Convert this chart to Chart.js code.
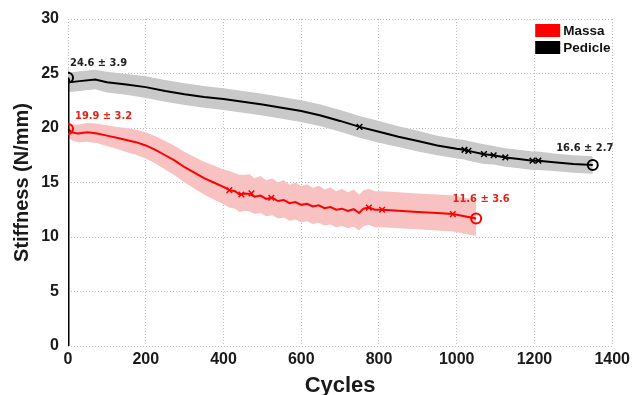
<!DOCTYPE html>
<html><head><meta charset="utf-8">
<script src="https://cdn.jsdelivr.net/npm/chart.js@4.4.1/dist/chart.umd.min.js"></script>
<style>html,body{margin:0;padding:0;background:#fff;}canvas{display:block}</style>
</head><body>
<canvas id="c" width="634" height="395"></canvas>
<script>
// ---- data ----
const xTicks = [0, 200, 400, 600, 800, 1000, 1200, 1400];
const yTicks = [0, 5, 10, 15, 20, 25, 30];

const pedicleCycles    = [0, 5, 30, 70, 100, 150, 200, 250, 300, 350, 400, 450, 500, 550, 600, 650, 700, 750, 800, 850, 900, 950, 1000, 1020, 1030, 1070, 1095, 1125, 1160, 1195, 1210, 1250, 1300, 1350];
const pedicleStiffness = [24.6, 24.2, 24.3, 24.45, 24.2, 24.0, 23.75, 23.4, 23.1, 22.85, 22.65, 22.4, 22.15, 21.85, 21.55, 21.15, 20.65, 20.1, 19.65, 19.2, 18.8, 18.4, 18.1, 18.0, 17.9, 17.6, 17.5, 17.3, 17.15, 17.0, 17.0, 16.85, 16.7, 16.6];
const pedicleBand      = [0.9, 0.9, 0.9, 0.9, 0.95, 0.95, 1.0, 1.0, 1.0, 1.0, 1.0, 1.0, 1.0, 1.0, 1.0, 1.0, 1.0, 1.0, 1.0, 0.95, 0.95, 0.9, 0.9, 0.9, 0.9, 0.9, 0.85, 0.85, 0.85, 0.85, 0.85, 0.8, 0.8, 0.8];
const pedicleCrossX    = [750, 1020, 1030, 1070, 1095, 1125, 1195, 1210];
const pedicleCrossY    = [20.1, 18.0, 17.9, 17.6, 17.5, 17.3, 17.0, 17.0];
const pedicleStart     = [0, 24.6];

const massaCycles    = [0, 10, 25, 50, 75, 100, 125, 150, 175, 200, 225, 250, 275, 300, 325, 350, 375, 400, 415, 430, 441, 455, 467, 480, 495, 510, 526, 540, 555, 570, 585, 600, 615, 630, 645, 660, 675, 690, 705, 720, 735, 749, 760, 774, 790, 808, 850, 900, 950, 990, 1020, 1050];
const massaStiffness = [19.9, 19.6, 19.5, 19.6, 19.5, 19.3, 19.1, 18.9, 18.7, 18.4, 18.0, 17.5, 17.0, 16.4, 15.9, 15.4, 15.0, 14.6, 14.3, 14.2, 13.9, 14.0, 13.95, 13.7, 13.8, 13.5, 13.6, 13.3, 13.4, 13.1, 13.2, 12.95, 13.05, 12.8, 12.9, 12.65, 12.75, 12.5, 12.6, 12.4, 12.55, 12.2, 12.6, 12.7, 12.5, 12.5, 12.4, 12.3, 12.2, 12.1, 11.9, 11.7];
const massaBandUp    = [0.7, 0.75, 0.8, 0.85, 0.9, 0.95, 1.0, 1.1, 1.15, 1.2, 1.25, 1.3, 1.35, 1.4, 1.45, 1.5, 1.55, 1.6, 1.75, 1.65, 1.8, 1.7, 1.8, 1.7, 1.8, 1.7, 1.8, 1.7, 1.8, 1.7, 1.8, 1.7, 1.8, 1.7, 1.8, 1.7, 1.8, 1.7, 1.8, 1.7, 1.8, 1.7, 1.7, 1.7, 1.7, 1.7, 1.7, 1.7, 1.7, 1.7, 1.7, 1.7];
const massaBandLo    = [0.7, 0.75, 0.8, 0.85, 0.9, 0.95, 1.0, 1.1, 1.15, 1.2, 1.25, 1.3, 1.35, 1.4, 1.45, 1.5, 1.55, 1.6, 1.6, 1.6, 1.6, 1.6, 1.6, 1.6, 1.6, 1.6, 1.6, 1.6, 1.6, 1.6, 1.6, 1.6, 1.6, 1.6, 1.6, 1.6, 1.6, 1.6, 1.6, 1.6, 1.6, 1.6, 1.6, 1.6, 1.6, 1.6, 1.6, 1.6, 1.6, 1.6, 1.6, 1.6];
const massaCrossX    = [415, 446, 472, 523, 774, 808, 990];
const massaCrossY    = [14.3, 13.9, 14.0, 13.6, 12.7, 12.5, 12.1];

const seriesNames = ['Massa', 'Pedicle'];
const summaryLabels = ['19.9 ± 3.2', '11.6 ± 3.6', '24.6 ± 3.9', '16.6 ± 2.7'];

// ---- build datasets ----
const pts = (xs, ys) => xs.map((x, i) => ({x, y: ys[i]}));
const RED = '#ff0000', BLACK = '#000000';
const PINK = '#f8c2c2', GREY = '#c9c9c9';

const pedLine = pts(pedicleCycles, pedicleStiffness);
const massaLine = pts(massaCycles, massaStiffness);
const pedEnds = [pedLine[0], pedLine[pedLine.length - 1]];
const massaEnds = [massaLine[0], massaLine[massaLine.length - 1]];

const datasets = [
  {label: 'pedUp', data: pedicleCycles.map((x, i) => ({x, y: pedicleStiffness[i] + pedicleBand[i]})), borderWidth: 0, pointRadius: 0, backgroundColor: GREY, fill: '+1', order: 5},
  {label: 'pedLo', data: pedicleCycles.map((x, i) => ({x, y: pedicleStiffness[i] - pedicleBand[i]})), borderWidth: 0, pointRadius: 0, fill: false, order: 5},
  {label: 'massaUp', data: massaCycles.map((x, i) => ({x, y: massaStiffness[i] + massaBandUp[i]})), borderWidth: 0, pointRadius: 0, backgroundColor: PINK, fill: '+1', order: 4},
  {label: 'massaLo', data: massaCycles.map((x, i) => ({x, y: massaStiffness[i] - massaBandLo[i]})), borderWidth: 0, pointRadius: 0, fill: false, order: 4},
  {label: seriesNames[0], data: massaLine, borderColor: RED, borderWidth: 2, pointRadius: 0, fill: false, order: 2},
  {label: seriesNames[1], data: pedLine, borderColor: BLACK, borderWidth: 2, pointRadius: 0, fill: false, order: 2},
  {label: 'pedStart', data: [{x: 0, y: 0}, {x: 0, y: pedicleStart[1]}], borderColor: BLACK, borderWidth: 3, pointRadius: 0, fill: false, order: 1},
  {label: 'massaX', data: pts(massaCrossX, massaCrossY), showLine: false, pointStyle: 'crossRot', pointRadius: 4, pointBorderWidth: 1.5, pointBorderColor: RED, order: 0},
  {label: 'pedX', data: pts(pedicleCrossX, pedicleCrossY), showLine: false, pointStyle: 'crossRot', pointRadius: 4, pointBorderWidth: 1.5, pointBorderColor: BLACK, order: 0},
  {label: 'massaO', data: massaEnds, showLine: false, pointStyle: 'circle', pointRadius: 5, pointBorderWidth: 2, pointBorderColor: RED, pointBackgroundColor: 'rgba(0,0,0,0)', order: 0},
  {label: 'pedO', data: pedEnds, showLine: false, pointStyle: 'circle', pointRadius: 5, pointBorderWidth: 2, pointBorderColor: BLACK, pointBackgroundColor: 'rgba(0,0,0,0)', order: 0}
];

const TEXT_FONT = '"Liberation Sans Narrow", "DejaVu Sans Condensed", Arial, sans-serif';

const overlay = {
  id: 'overlay',
  afterDatasetsDraw(chart) {
    const {ctx, scales: {x, y}} = chart;
    ctx.save();
    ctx.font = 'bold 11px ' + TEXT_FONT;
    ctx.textBaseline = 'middle';
    const put = (txt, pt, dx, dy, align, color) => {
      ctx.fillStyle = color; ctx.textAlign = align;
      ctx.fillText(txt, x.getPixelForValue(pt.x) + dx, y.getPixelForValue(pt.y) + dy);
    };
    put(summaryLabels[0], massaEnds[0], 7, -13, 'left', '#e2231a');
    put(summaryLabels[1], massaEnds[1], 5, -19, 'center', '#e2231a');
    put(summaryLabels[2], pedEnds[0], 2, -15, 'left', '#222222');
    put(summaryLabels[3], pedEnds[1], -8, -17, 'center', '#222222');

    // legend (top right inside plot)
    const lx = chart.chartArea.right - 77, ly = chart.chartArea.top + 5;
    ctx.fillStyle = '#ffffff';
    ctx.fillRect(lx - 3, ly - 2, 78, 33);
    const colors = [RED, BLACK];
    ctx.font = 'bold 13.5px "Liberation Sans", Arial, sans-serif';
    ctx.textAlign = 'left';
    seriesNames.forEach((name, i) => {
      ctx.fillStyle = colors[i];
      ctx.fillRect(lx, ly + i * 17, 25, 13);
      ctx.fillStyle = '#111111';
      ctx.fillText(name, lx + 28, ly + i * 17 + 7);
    });
    ctx.restore();
  }
};

const gridOpts = {color: '#bdbdbd', lineWidth: 1, drawTicks: false};
const borderOpts = {display: false, dash: [1, 2]};
const plain = v => String(v);

new Chart(document.getElementById('c'), {
  type: 'line',
  data: {datasets},
  plugins: [overlay],
  options: {
    responsive: false,
    animation: false,
    devicePixelRatio: 1,
    parsing: false,
    layout: {padding: {top: 19, right: 20, left: 0, bottom: 0}},
    plugins: {legend: {display: false}, tooltip: {enabled: false}},
    elements: {line: {tension: 0}},
    scales: {
      x: {
        type: 'linear', min: xTicks[0], max: xTicks[xTicks.length - 1],
        afterBuildTicks: s => { s.ticks = xTicks.map(v => ({value: v})); },
        afterFit: s => { s.height = 49; },
        grid: gridOpts,
        border: borderOpts,
        ticks: {color: '#1a1a1a', padding: 4, callback: plain, font: {family: '"Liberation Sans", Arial, sans-serif', size: 16, weight: 'bold'}, maxRotation: 0},
        title: {display: true, text: 'Cycles', color: '#1a1a1a', padding: 0, font: {family: '"Liberation Sans", Arial, sans-serif', size: 22, weight: 'bold', lineHeight: 0.8}}
      },
      y: {
        type: 'linear', min: yTicks[0], max: yTicks[yTicks.length - 1],
        afterBuildTicks: s => { s.ticks = yTicks.map(v => ({value: v})); },
        afterFit: s => { s.width = 68; },
        grid: gridOpts,
        border: borderOpts,
        ticks: {color: '#1a1a1a', padding: 9, callback: plain, font: {family: '"Liberation Sans", Arial, sans-serif', size: 16, weight: 'bold'}},
        title: {display: true, text: 'Stiffness (N/mm)', color: '#1a1a1a', padding: {top: 10, bottom: 0}, font: {family: '"Liberation Sans", Arial, sans-serif', size: 20, weight: 'bold'}}
      }
    }
  }
});
</script>
</body></html>
